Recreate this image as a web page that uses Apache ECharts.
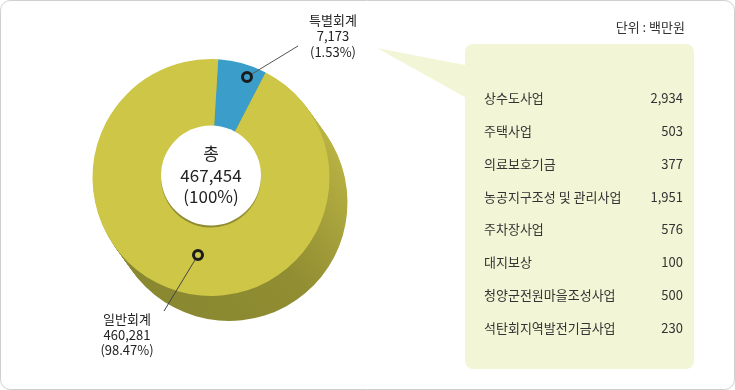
<!DOCTYPE html>
<html>
<head>
<meta charset="utf-8">
<script src="https://cdn.jsdelivr.net/npm/echarts@6/dist/echarts.min.js"></script>
<style>
html,body{margin:0;padding:0;background:#fff;}
#chart{width:735px;height:390px;}
</style>
</head>
<body>
<div id="chart"></div>
<script>
// ---- data ----
const sliceNames = ['특별회계', '일반회계'];
const sliceValues = [7173, 460281];
const slicePercents = ['1.53%', '98.47%'];
const totalLabel = '총';
const totalValue = 467454;
const totalPercent = '100%';
const itemNames = ['상수도사업', '주택사업', '의료보호기금', '농공지구조성 및 관리사업', '주차장사업', '대지보상', '청양군전원마을조성사업', '석탄회지역발전기금사업'];
const itemValues = [2934, 503, 377, 1951, 576, 100, 500, 230];
const unitText = '단위 : 백만원';

// ---- layout / style ----
const FONT = '"Noto Sans CJK KR", "Noto Sans", sans-serif';
const CX = 211, CY = 177.5, R = 118.5, R0 = 50;
const DX = 18, DY = 25, STEPS = 20;
const topColors = ['#3b9dc9', '#cec646'];
const fmt = v => v.toLocaleString('en-US');

const sideGrad = {
  type: 'linear', x: 0.25, y: 1, x2: 1, y2: 0.25,
  colorStops: [
    { offset: 0, color: '#898730' },
    { offset: 0.45, color: '#908d32' },
    { offset: 1, color: '#bdb645' }
  ]
};

const pieData = sliceNames.map((n, i) => ({ name: n, value: sliceValues[i] }));

const series = [];
for (let i = STEPS; i >= 1; i--) {
  series.push({
    type: 'pie',
    silent: true,
    center: [CX + DX * i / STEPS, CY + DY * i / STEPS],
    radius: [0, R],
    startAngle: 86.5,
    minAngle: 24,
    label: { show: false },
    labelLine: { show: false },
    itemStyle: { color: sideGrad },
    data: pieData
  });
}
series.push({
  type: 'pie',
  silent: true,
  center: [CX, CY],
  radius: [R0, R],
  startAngle: 86.5,
  minAngle: 24,
  label: { show: false },
  labelLine: { show: false },
  itemStyle: { color: p => topColors[p.dataIndex] },
  data: pieData
});
// hole with total label
series.push({
  type: 'pie',
  silent: true,
  center: [CX, CY - 2],
  radius: [0, R0],
  itemStyle: { color: '#ffffff' },
  label: {
    show: true, position: 'center',
    formatter: totalLabel + '\n' + fmt(totalValue) + '\n(' + totalPercent + ')',
    fontFamily: FONT, fontSize: 17, lineHeight: 21.5, color: '#222'
  },
  labelLine: { show: false },
  data: [{ value: 1, name: 'total' }]
});

// annotations
const graphic = [
  { type: 'rect', shape: { x: 0.5, y: 0.5, width: 734, height: 389, r: 10 }, style: { fill: 'none', stroke: '#cfcfcf', lineWidth: 1 }, z: 100 },
  { type: 'polygon', shape: { points: [[377, 48], [470, 66], [470, 100]] }, style: { fill: '#f3f6d6' }, z: 1 },
  { type: 'rect', shape: { x: 465, y: 44, width: 229, height: 325, r: 8 }, style: { fill: '#f3f6d6' }, z: 1 },
  { type: 'text', x: 685, y: 27, style: { text: unitText, font: '13px ' + FONT, fill: '#333', align: 'right', verticalAlign: 'middle' }, z: 10 },
  // leader lines
  { type: 'line', shape: { x1: 247, y1: 77, x2: 298, y2: 46 }, style: { stroke: '#555', lineWidth: 1 }, z: 50 },
  { type: 'line', shape: { x1: 198, y1: 255, x2: 164, y2: 311 }, style: { stroke: '#444', lineWidth: 1 }, z: 50 },
  // markers
  { type: 'circle', shape: { cx: 247, cy: 77, r: 4.5 }, style: { fill: topColors[0], stroke: '#1b1b1b', lineWidth: 3 }, z: 60 },
  { type: 'circle', shape: { cx: 198, cy: 255, r: 4.5 }, style: { fill: topColors[1], stroke: '#1b1b1b', lineWidth: 3 }, z: 60 },
  // slice labels
  { type: 'text', x: 333, y: 36, style: { text: sliceNames[0] + '\n' + fmt(sliceValues[0]) + '\n(' + slicePercents[0] + ')', font: '13px ' + FONT, lineHeight: 16, fill: '#222', align: 'center', verticalAlign: 'middle' }, z: 60 },
  { type: 'text', x: 127, y: 335, style: { text: sliceNames[1] + '\n' + fmt(sliceValues[1]) + '\n(' + slicePercents[1] + ')', font: '13px ' + FONT, lineHeight: 15.5, fill: '#222', align: 'center', verticalAlign: 'middle' }, z: 60 }
];
itemNames.forEach((n, i) => {
  const y = 98 + i * 32.86;
  graphic.push({ type: 'text', x: 484, y: y, style: { text: n, font: '13px ' + FONT, fill: '#333', align: 'left', verticalAlign: 'middle' }, z: 10 });
  graphic.push({ type: 'text', x: 683, y: y, style: { text: fmt(itemValues[i]), font: '13px ' + FONT, fill: '#333', align: 'right', verticalAlign: 'middle' }, z: 10 });
});

const chart = echarts.init(document.getElementById('chart'), null, { renderer: 'canvas' });
chart.setOption({
  animation: false,
  backgroundColor: '#ffffff',
  series: series,
  graphic: graphic
});
</script>
</body>
</html>
